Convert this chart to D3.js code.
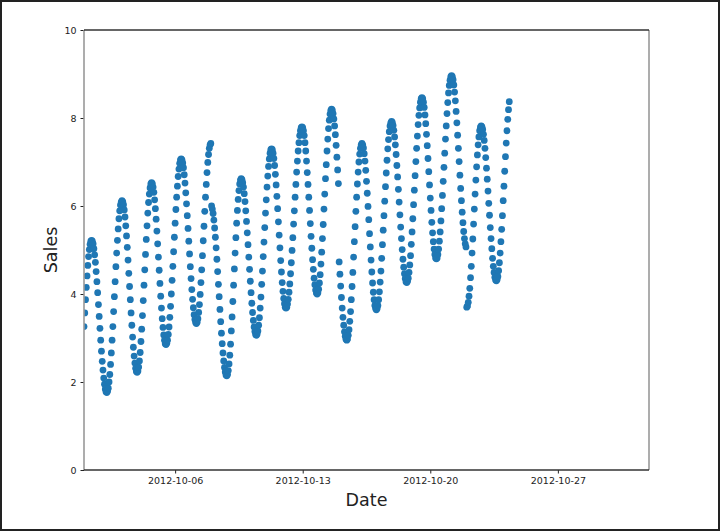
<!DOCTYPE html>
<html lang='en'>
<head>
<meta charset='utf-8'>
<title>Sales by date</title>
<script src='https://d3js.org/d3.v7.min.js'></script>
<style>
  html, body { margin: 0; padding: 0; background: #fff; }
  svg { display: block; font-family: 'DejaVu Sans', sans-serif; }
</style>
</head>
<body>
<div class='vis'></div>
<script>
// hourly sales, one array per week, each starting at midnight of weekStarts[i]
const weekStarts = ['2012-10-01', '2012-10-08', '2012-10-15', '2012-10-22'];

const week1 = [
  3.26, 3.57, 3.87, 4.15, 4.41, 4.65, 4.85, 5.01, 5.13, 5.20, 5.22,
  5.20, 5.14, 5.03, 4.89, 4.72, 4.51, 4.28, 4.03, 3.76, 3.49, 3.22, 2.95, 2.70, 2.47, 2.27, 2.09, 1.95, 1.84, 1.78, 1.76,
  1.79, 1.86, 2.00, 2.17, 2.40, 2.66, 2.95, 3.26, 3.60, 3.94, 4.28, 4.62, 4.93, 5.22, 5.48, 5.71, 5.89, 6.02, 6.09, 6.12,
  6.10, 6.03, 5.91, 5.75, 5.55, 5.32, 5.06, 4.77, 4.47, 4.17, 3.87, 3.57, 3.29, 3.02, 2.79, 2.59, 2.43, 2.31, 2.24, 2.22,
  2.25, 2.34, 2.48, 2.67, 2.92, 3.20, 3.51, 3.85, 4.20, 4.55, 4.90, 5.24, 5.55, 5.84, 6.08, 6.27, 6.41, 6.50, 6.53,
  6.51, 6.43, 6.31, 6.14, 5.94, 5.70, 5.43, 5.14, 4.84, 4.54, 4.24, 3.95, 3.68, 3.44, 3.24, 3.07, 2.95, 2.87, 2.85,
  2.88, 2.95, 3.08, 3.25, 3.47, 3.72, 4.00, 4.31, 4.63, 4.96, 5.29, 5.61, 5.92, 6.20, 6.45, 6.67, 6.84, 6.97, 7.05, 7.07,
  7.05, 6.98, 6.87, 6.71, 6.52, 6.30, 6.05, 5.78, 5.49, 5.20, 4.91, 4.62, 4.35, 4.10, 3.88, 3.69, 3.53, 3.42, 3.35, 3.33,
  3.36, 3.44, 3.58, 3.76, 3.99, 4.26, 4.55, 4.87, 5.21, 5.54, 5.88, 6.20, 6.49, 6.76, 6.99, 7.17, 7.31, 7.39, 7.42
];
const week2 = [
  6.00, 5.93, 5.83, 5.68, 5.50, 5.29, 5.05, 4.79, 4.51, 4.22, 3.94, 3.65, 3.37, 3.11, 2.87, 2.66, 2.48, 2.33, 2.23, 2.16, 2.14,
  2.17, 2.26, 2.41, 2.61, 2.86, 3.16, 3.48, 3.83, 4.20, 4.57, 4.93, 5.28, 5.61, 5.90, 6.15, 6.35, 6.50, 6.59, 6.62,
  6.60, 6.53, 6.43, 6.28, 6.10, 5.89, 5.65, 5.39, 5.12, 4.84, 4.56, 4.29, 4.03, 3.79, 3.58, 3.40, 3.25, 3.15, 3.08, 3.06,
  3.09, 3.16, 3.29, 3.46, 3.68, 3.93, 4.22, 4.52, 4.85, 5.18, 5.51, 5.84, 6.14, 6.43, 6.68, 6.90, 7.07, 7.20, 7.28, 7.30,
  7.28, 7.20, 7.08, 6.92, 6.72, 6.48, 6.22, 5.94, 5.64, 5.34, 5.05, 4.76, 4.50, 4.26, 4.06, 3.90, 3.78, 3.70, 3.68,
  3.70, 3.77, 3.88, 4.04, 4.23, 4.46, 4.71, 4.99, 5.28, 5.59, 5.89, 6.20, 6.49, 6.77, 7.02, 7.25, 7.44, 7.60, 7.71, 7.78, 7.80,
  7.78, 7.71, 7.60, 7.44, 7.25, 7.02, 6.76, 6.49, 6.20, 5.90, 5.60, 5.31, 5.04, 4.78, 4.56, 4.36, 4.21, 4.09, 4.02, 4.00,
  4.03, 4.11, 4.25, 4.44, 4.68, 4.95, 5.26, 5.58, 5.93, 6.27, 6.62, 6.94, 7.25, 7.52, 7.76, 7.95, 8.09, 8.17, 8.20,
  8.18, 8.10, 7.98, 7.82, 7.62, 7.38, 7.11, 6.82, 6.51
];
const week3 = [
  4.73, 4.45, 4.18, 3.92, 3.68, 3.47, 3.29, 3.14, 3.04, 2.97, 2.95,
  2.98, 3.06, 3.19, 3.38, 3.60, 3.87, 4.17, 4.49, 4.84, 5.19, 5.53, 5.88, 6.20, 6.50, 6.77, 7.00, 7.18, 7.31, 7.39, 7.42,
  7.39, 7.32, 7.19, 7.02, 6.81, 6.56, 6.29, 5.99, 5.69, 5.37, 5.07, 4.77, 4.50, 4.25, 4.04, 3.87, 3.74, 3.67, 3.64,
  3.67, 3.74, 3.87, 4.05, 4.27, 4.52, 4.81, 5.12, 5.45, 5.78, 6.11, 6.44, 6.75, 7.04, 7.30, 7.51, 7.69, 7.82, 7.89, 7.92,
  7.90, 7.83, 7.72, 7.57, 7.39, 7.17, 6.92, 6.66, 6.38, 6.09, 5.80, 5.52, 5.26, 5.01, 4.79, 4.61, 4.46, 4.35, 4.28, 4.26,
  4.29, 4.36, 4.49, 4.66, 4.87, 5.13, 5.41, 5.71, 6.03, 6.36, 6.69, 7.01, 7.31, 7.59, 7.85, 8.06, 8.23, 8.36, 8.44, 8.46,
  8.44, 8.36, 8.24, 8.07, 7.87, 7.63, 7.37, 7.08, 6.78, 6.48, 6.18, 5.90, 5.63, 5.39, 5.19, 5.02, 4.90, 4.82, 4.80,
  4.82, 4.90, 5.02, 5.20, 5.41, 5.66, 5.94, 6.24, 6.56, 6.88, 7.20, 7.52, 7.82, 8.10, 8.35, 8.57, 8.74, 8.86, 8.94, 8.96,
  8.94, 8.87, 8.75, 8.59, 8.39, 8.15, 7.89, 7.61, 7.31, 7.01, 6.70, 6.40, 6.12, 5.86, 5.62, 5.42, 5.26, 5.14, 5.07
];
const week4 = [
  3.70,
  3.73, 3.81, 3.95, 4.13, 4.37, 4.63, 4.93, 5.25, 5.59, 5.93, 6.27, 6.59, 6.89, 7.16, 7.39, 7.57, 7.71, 7.79, 7.82,
  7.80, 7.74, 7.63, 7.49, 7.31, 7.10, 6.86, 6.61, 6.34, 6.06, 5.79, 5.51, 5.26, 5.03, 4.81, 4.63, 4.49, 4.38, 4.32, 4.30,
  4.33, 4.40, 4.53, 4.71, 4.93, 5.19, 5.47, 5.78, 6.12, 6.45, 6.79, 7.12, 7.43, 7.71, 7.97, 8.19, 8.37
];

const xTicks = ['2012-10-06', '2012-10-13', '2012-10-20', '2012-10-27'];
const yTicks = [0, 2, 4, 6, 8, 10];
const xDomain = ['2012-10-01', '2012-11-01'];
const yDomain = [0, 10];

const parseDay = d3.timeParse('%Y-%m-%d');

// flatten the weeks into {date, sales} rows
const data = [];
[week1, week2, week3, week4].forEach((week, w) => {
  const start = parseDay(weekStarts[w]);
  week.forEach((v, i) => {
    data.push({date: d3.timeHour.offset(start, i), sales: v});
  });
});

// svg boundaries
const W = 720, H = 531;
const margin = {top: 30, right: 71, bottom: 61, left: 84};

const xScale = d3.scaleTime()
  .domain(xDomain.map(parseDay))
  .range([margin.left, W - margin.right]);

const yScale = d3.scaleLinear()
  .domain(yDomain)
  .range([H - margin.bottom, margin.top]);

const svg = d3.select('.vis')
  .append('svg')
    .attr('width', W)
    .attr('height', H);

svg.append('rect')
  .attr('width', W).attr('height', H)
  .attr('fill', '#fff');

// outer frame of the picture
svg.append('rect')
  .attr('x', 1).attr('y', 1)
  .attr('width', W - 2).attr('height', H - 2)
  .attr('fill', 'none')
  .attr('stroke', '#222')
  .attr('stroke-width', 2);

svg.append('clipPath')
  .attr('id', 'plot-clip')
  .append('rect')
    .attr('x', margin.left).attr('y', margin.top)
    .attr('width', W - margin.left - margin.right)
    .attr('height', H - margin.top - margin.bottom);

// points
svg.append('g')
  .attr('clip-path', 'url(#plot-clip)')
  .selectAll('circle')
  .data(data).enter()
  .append('circle')
    .attr('cx', (d) => xScale(d.date))
    .attr('cy', (d) => yScale(d.sales))
    .attr('r', 3.4)
    .attr('fill', '#1f77b4');

// axes
const xAxis = d3.axisBottom(xScale)
  .tickValues(xTicks.map(parseDay))
  .tickFormat(d3.timeFormat('%Y-%m-%d'))
  .tickSize(3.5)
  .tickPadding(4);
const yAxis = d3.axisLeft(yScale)
  .tickValues(yTicks)
  .tickSize(3.5)
  .tickPadding(4);

const gx = svg.append('g')
  .attr('transform', 'translate(0,' + (H - margin.bottom) + ')')
  .call(xAxis);
const gy = svg.append('g')
  .attr('transform', 'translate(' + margin.left + ',0)')
  .call(yAxis);

[gx, gy].forEach((g) => {
  g.select('.domain').remove();
  g.selectAll('.tick line').attr('stroke', '#222');
  g.selectAll('.tick text')
    .attr('fill', '#222')
    .style('font-family', "'DejaVu Sans', sans-serif")
    .style('font-size', '9.5px');
});

// spines: top and bottom dark, left and right lighter
const x0 = margin.left, x1 = W - margin.right;
const y0 = margin.top, y1 = H - margin.bottom;
svg.append('line').attr('x1', x0).attr('x2', x0).attr('y1', y0).attr('y2', y1)
  .attr('stroke', '#999').attr('stroke-width', 1.6);
svg.append('line').attr('x1', x1).attr('x2', x1).attr('y1', y0).attr('y2', y1)
  .attr('stroke', '#999').attr('stroke-width', 1.6);
svg.append('line').attr('x1', x0).attr('x2', x1).attr('y1', y0).attr('y2', y0)
  .attr('stroke', '#333').attr('stroke-width', 1.4);
svg.append('line').attr('x1', x0).attr('x2', x1).attr('y1', y1).attr('y2', y1)
  .attr('stroke', '#333').attr('stroke-width', 1.4);

// axis labels
svg.append('text')
  .attr('x', (x0 + x1) / 2)
  .attr('y', 506)
  .attr('text-anchor', 'middle')
  .attr('fill', '#222')
  .style('font-size', '17.5px')
  .text('Date');

svg.append('text')
  .attr('transform', 'translate(57,' + ((y0 + y1) / 2) + ') rotate(-90)')
  .attr('text-anchor', 'middle')
  .attr('fill', '#222')
  .style('font-size', '17.5px')
  .text('Sales');
</script>
</body>
</html>
